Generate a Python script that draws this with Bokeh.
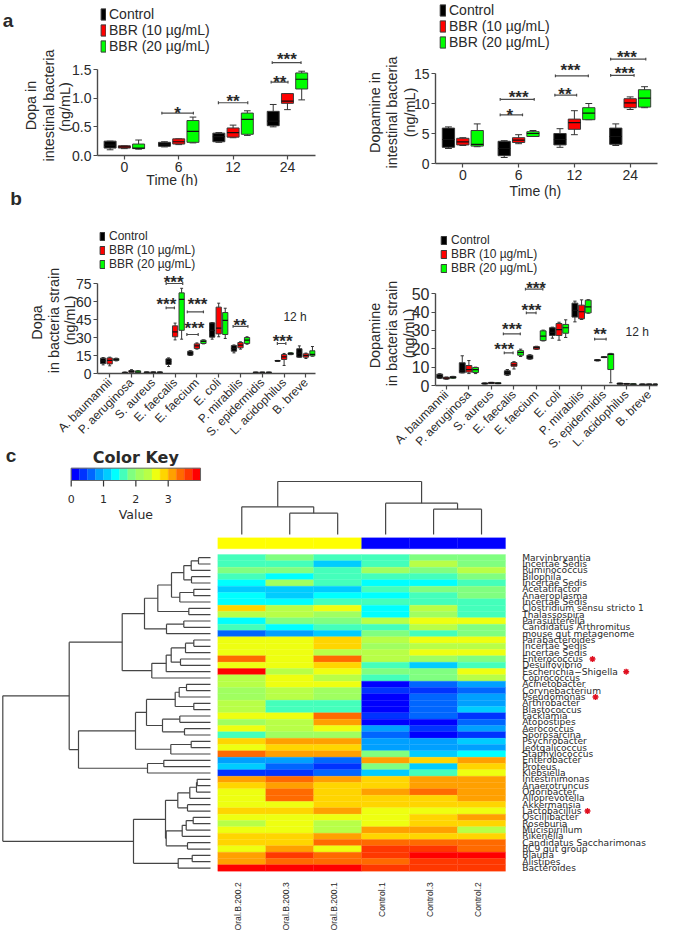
from math import pi
from bokeh.embed import file_html
from bokeh.resources import INLINE
from bokeh.plotting import figure
from bokeh.layouts import column, row
from bokeh.models import (ColumnDataSource, FixedTicker, Legend, LegendItem,
                          LinearColorMapper, NumeralTickFormatter, Range1d)
from bokeh.core.properties import value
from bokeh.transform import transform

FONT = "Liberation Sans"
INK = "#2a2a2a"
SERIES = ["Control", "BBR (10 \u00b5g/mL)", "BBR (20 \u00b5g/mL)"]
FILLS = ["#000000", "#ff0000", "#00ff00"]

# ---------- panel a: (low, q1, median, q3, high) per time point
TIMES = ["0", "6", "12", "24"]
DOPA_GUT_CONTROL = [(.10, .13, .18, .25, .25), (.15, .16, .20, .23, .24), (.23, .24, .33, .39, .40), (.50, .52, .60, .77, .89)]
DOPA_GUT_BBR10 = [(.12, .13, .15, .17, .17), (.19, .20, .24, .29, .29), (.31, .32, .40, .48, .53), (.80, .91, .95, 1.08, 1.08)]
DOPA_GUT_BBR20 = [(.11, .12, .13, .20, .27), (.22, .23, .42, .61, .67), (.35, .37, .63, .74, .78), (.97, 1.16, 1.33, 1.44, 1.47)]
DA_GUT_CONTROL = [(2.5, 2.7, 4.0, 5.9, 6.1), (1.0, 1.3, 2.5, 3.7, 3.8), (2.7, 3.1, 4.0, 5.0, 5.8), (3.0, 3.2, 4.5, 5.9, 6.6)]
DA_GUT_BBR10 = [(3.0, 3.1, 3.6, 4.2, 4.3), (3.3, 3.5, 3.9, 4.3, 4.8), (4.8, 5.7, 6.8, 7.4, 8.8), (9.0, 9.3, 10.1, 10.8, 11.1)]
DA_GUT_BBR20 = [(2.8, 2.9, 3.2, 5.5, 6.6), (4.5, 4.5, 5.0, 5.3, 5.5), (7.3, 7.3, 8.4, 9.3, 10.0), (9.3, 9.4, 10.9, 12.3, 12.8)]

# ---------- panel b
DOPA_STRAINS = ["A. baumannii", "P. aeruginosa", "S. aureus", "E. faecalis", "E. faecium", "E. coli",
                "P. mirabilis", "S. epidermidis", "L. acidophilus", "B. breve"]
DOPA_CONTROL = [(7.2, 8.3, 10.5, 12.8, 13.3), (.2, .3, .7, 1.1, 1.2), (.6, .6, .9, 1.3, 1.3), (5.8, 7.5, 10, 12.2, 13),
                (15, 15.3, 17, 18.6, 19), (28.6, 30.3, 36, 42.2, 42.5), (17.2, 18.6, 21, 23.3, 23.8), (.7, .7, .9, 1.1, 1.1),
                (10.2, 10.3, 10.5, 10.8, 10.9), (13.6, 13.6, 17, 20.6, 23)]
DOPA_BBR10 = [(6.4, 8, 11, 13, 13.6), (.3, .9, 1.7, 2.5, 3.2), (.6, .6, .9, 1.3, 1.3), (28, 30.6, 34.7, 39.7, 42),
              (20.3, 20.8, 23, 24.7, 25.5), (30.6, 33, 37.8, 55.3, 58.6), (20.3, 21.4, 23.6, 25.8, 26.4), (.7, .7, .9, 1.1, 1.1),
              (6.7, 11.7, 13.9, 15.8, 16.7), (12.5, 13.6, 15, 16.4, 17)]
DOPA_BBR20 = [(10.5, 10.8, 11.5, 12.5, 12.8), (.3, .4, 1.2, 2.2, 2.5), (.6, .6, .9, 1.3, 1.3), (28.6, 36, 61.7, 67.2, 71),
              (24.7, 25, 26.7, 27.8, 28), (29.2, 32.5, 44.2, 50.8, 54.4), (24.4, 25, 27.8, 30, 30.6), (.7, .7, .9, 1.1, 1.1),
              (15.7, 15.8, 16.5, 17.2, 17.4), (14.4, 14.7, 16, 18.9, 22.5)]
DA_STRAINS = DOPA_STRAINS
DA_CONTROL = [(3.8, 4, 5, 6.2, 6.4), (6.9, 6.9, 8, 12.4, 16.2), (.8, .8, 1.1, 1.4, 1.4), (5.5, 5.8, 7, 8, 8.7),
              (14.3, 14.5, 15.5, 16.5, 16.8), (25.8, 27.3, 29, 31.5, 31.8), (34.7, 37.3, 41, 44.9, 46), (13.4, 13.5, 13.8, 14, 14.1),
              (.7, .7, 1, 1.3, 1.3), (.4, .4, .6, .8, .8)]
DA_BBR10 = [(3.4, 3.5, 4, 4.5, 4.6), (6.5, 7.3, 8.7, 10.9, 13.6), (1.1, 1.1, 1.4, 1.7, 1.7), (9, 10.5, 11.3, 12.5, 13),
            (19.7, 19.8, 20.6, 21.2, 21.4), (24.7, 27.3, 30.5, 33.8, 34.5), (36, 36.4, 40.2, 43.8, 46.7), (15.2, 15.3, 15.5, 15.6, 15.7),
            (.7, .7, .9, 1.1, 1.1), (.4, .4, .6, .8, .8)]
DA_BBR20 = [(3.9, 4, 4.4, 4.9, 5), (6.5, 7.1, 8.7, 9.8, 10), (1, 1, 1.2, 1.5, 1.5), (15.8, 16.5, 18, 19, 19.8),
            (24.3, 24.5, 26.9, 29.8, 30.2), (26.2, 28.5, 31.5, 33.3, 35.8), (39.4, 39.6, 42.9, 46.5, 46.8), (1.5, 8.7, 17, 17.3, 17.5),
            (.4, .4, .7, .9, .9), (.4, .4, .6, .8, .8)]

# ---------- significance marks: x0, x1, y, label, label x, label y
DOPA_GUT_MARKS = [(.69, 1.27, .74, "*", .98, .81), (1.73, 2.27, .92, "**", 2.0, 1.02),
                  (2.70, 3.01, 1.28, "**", 2.86, 1.35), (2.72, 3.25, 1.62, "***", 2.99, 1.74)]
DA_GUT_MARKS = [(.67, 1.07, 8.1, "*", .84, 8.7), (.67, 1.28, 10.7, "***", 1.0, 11.7), (1.65, 2.04, 11.4, "**", 1.83, 12.2),
                (1.66, 2.25, 14.6, "***", 1.93, 16.1), (2.65, 3.07, 14.7, "***", 2.9, 15.6), (2.65, 3.28, 17.4, "***", 2.94, 18.3)]
DOPA_MARKS = [(2.59, 3.35, 75, "***", 2.93, 79.2), (2.59, 2.97, 54.7, "***", 2.6, 60.6), (3.56, 4.30, 51.4, "***", 4.03, 60.6),
              (3.54, 4.06, 32.5, "***", 3.89, 40.8), (5.66, 6.34, 39.2, "**", 5.98, 43.3), (7.69, 8.08, 25, "***", 7.93, 30)]
DA_MARKS = [(2.57, 2.96, 17.8, "***", 2.57, 22), (2.53, 3.28, 28.2, "***", 2.91, 32.9), (3.55, 3.98, 39.6, "***", 3.78, 43.1),
            (3.51, 4.28, 52.5, "***", 3.98, 55.1), (6.58, 7.09, 25.3, "**", 6.82, 30.2)]

# ---------- panel c
SAMPLES = ["Oral.B.200.2", "Oral.B.200.3", "Oral.B.200.1", "Control.1", "Control.3", "Control.2"]
SAMPLE_GROUP = ["#ffff00", "#ffff00", "#ffff00", "#0000ff", "#0000ff", "#0000ff"]
TAXA = ["Marvinbryantia", "Incertae Sedis", "Ruminococcus", "Bilophila", "Incertae Sedis", "Acetatifactor", "Anaeroplasma",
        "Incertae Sedis", "Clostridium sensu stricto 1", "Thalassospira", "Parasutterella", "Candidatus Arthromitus",
        "mouse gut metagenome", "Parabacteroides", "Incertae Sedis", "Incertae Sedis", "Enterococcus", "Desulfovibrio",
        "Escherichia\u2212Shigella", "Coprococcus", "Acinetobacter", "Corynebacterium", "Pseudomonas", "Arthrobacter",
        "Blastococcus", "Facklamia", "Atopostipes", "Aerococcus", "Sporosarcina", "Psychrobacter", "Jeotgalicoccus",
        "Staphylococcus", "Enterobacter", "Proteus", "Klebsiella", "Intestinimonas", "Anaerotruncus", "Odoribacter",
        "Alloprevotella", "Akkermansia", "Lactobacillus", "Oscillibacter", "Roseburia", "Mucispirillum", "Rikenella",
        "Candidatus Saccharimonas", "RC9 gut group", "Blautia", "Alistipes", "Bacteroides"]
MARKED_ROWS = [16, 18, 22, 40]
HEAT = [
    [1.6, 1.9, 1.6, 1.6, 1.9, 1.9], [1.6, 1.6, 1.1, 1.6, 2.4, 1.9], [1.9, 1.9, 1.6, 2.1, 1.9, 2.4], [1.6, 1.4, 1.6, 1.6, 1.6, 1.9],
    [1.4, 2.1, 1.6, 1.4, 1.4, 1.6], [1.1, 1.1, 1.1, 1.6, 1.9, 1.9], [1.4, 1.1, 1.4, 1.4, 1.6, 1.9], [1.4, 1.4, 1.6, 1.6, 1.6, 1.6],
    [2.9, 2.4, 2.6, 1.4, 2.4, 1.6], [2.4, 2.4, 2.1, 1.4, 2.1, 1.6], [1.4, 1.9, 1.9, 2.4, 2.6, 2.6], [1.6, 1.4, 1.6, 1.6, 2.4, 1.9],
    [.6, .9, 1.1, 1.9, 1.6, 1.9], [2.6, 2.6, 2.9, 2.4, 2.6, 2.6], [2.6, 2.6, 2.9, 2.1, 2.4, 2.4], [2.6, 2.6, 2.4, 2.4, 2.6, 2.6],
    [3.4, 2.6, 3.4, 2.4, 2.1, 1.9], [2.6, 2.6, 2.9, 1.6, 1.1, 1.6], [3.9, 2.4, 2.6, 1.9, 1.9, 2.6], [2.4, 2.6, 2.4, 1.6, 1.9, 2.4],
    [2.4, 2.6, 2.6, .1, .6, .9], [2.1, 2.4, 2.1, .4, .4, .6], [2.1, 2.4, 2.1, .1, .6, .9], [2.4, 1.6, 1.6, .1, .6, .9],
    [2.4, 1.6, 1.6, .1, .6, 1.1], [2.6, 2.6, 3.4, .4, .6, .4], [2.1, 2.4, 3.1, .1, .1, .6], [2.6, 2.4, 2.6, .9, .4, .9],
    [1.6, 2.1, 2.1, .6, .1, .4], [2.9, 3.1, 3.1, .9, .9, 1.1], [2.6, 2.9, 2.9, .9, .9, .9], [3.4, 3.1, 3.1, 1.9, 1.1, 1.4],
    [.9, .9, .6, 3.1, 2.9, 3.1], [1.1, .6, .4, 1.9, 1.1, 2.9], [.4, .4, .6, 1.1, 1.6, 2.6], [3.1, 3.4, 3.1, 2.9, 3.1, 3.1],
    [2.9, 3.1, 2.9, 2.9, 3.1, 3.1], [2.6, 3.4, 2.9, 3.1, 3.4, 3.1], [2.6, 3.4, 2.9, 2.9, 2.9, 3.1], [2.6, 2.6, 2.9, 2.9, 2.9, 2.9],
    [2.9, 2.9, 3.1, 2.6, 2.6, 2.6], [2.6, 2.6, 2.6, 2.6, 2.9, 3.1], [2.4, 2.6, 2.4, 2.6, 2.9, 2.9], [2.6, 2.6, 2.4, 3.1, 3.1, 2.4],
    [2.9, 2.9, 3.1, 2.9, 2.9, 2.9], [2.9, 2.9, 3.4, 3.4, 3.4, 3.4], [2.6, 3.1, 2.6, 3.6, 3.6, 3.4], [3.1, 3.6, 3.4, 3.6, 3.9, 3.9],
    [3.1, 3.4, 3.4, 3.4, 3.6, 3.6], [3.9, 3.9, 3.9, 3.6, 3.6, 3.6],
]
PALETTE = ["#0000ff", "#0033ff", "#0066ff", "#00a0ff", "#00ccff", "#00ffff", "#44ffbb", "#80ff80",
           "#a0ff60", "#b8ff47", "#eeff11", "#ffd500", "#ffa000", "#ff6a00", "#ff3800", "#ff0000"]
KEY_TICKS = [0, 1, 2, 3]

# Dendrograms: (merge height, left, right); leaves are row / column indices
ROW_TREE_1 = (6.6, (5.27, (3.9, (2.67, (1.93, (1.2, 0, 1), 2), (1.9, 3, 4)), (3.07, (1.67, 5, 6), 7)), (2.17, 8, 9)),
              (4.4, (2.67, 10, 11), 12))
ROW_TREE_2 = (5.87, (4.43, (3.93, (2.5, (1.67, 13, 14), 15), (3.0, 16, 17)), 18), 19)
ROW_TREE_3 = (13.2, (7.5, (6.4, (3.53, (3.13, (2.4, 20, 21), 22), (1.67, 23, 24)),
                           (4.8, (3.07, 25, 26), (2.6, 27, 28))), (3.97, (1.93, 29, 30), 31)),
              (6.3, (4.67, 32, 33), 34))
ROW_TREE_4 = (7.7, (4.5, (3.27, (2.07, (1.4, (1.33, 35, 36), 37), 38), (2.3, 39, 40)),
                    (4.43, (2.83, (2.43, (1.73, 41, 42), 43), 44), (2.3, 45, 46))),
              (3.23, (1.83, 47, 48), 49))
ROW_TREE = (20.77, (14.13, (8.83, ROW_TREE_1, ROW_TREE_2), ROW_TREE_3), ROW_TREE_4)
COL_TREE = (5.3, (2.77, 0, (2.13, 1, 2)), (3.13, 3, (2.53, 4, 5)))


def box_panel(cell, frame, xspan, yscale, categories, ticks, stats, marks, offset, boxw,
              legend_at, legend_glyph, legend_gap, legend_font, tick_font, xrot=None):
    """cell = (page left, top, right, bottom); frame = (left, right, bottom page px)."""
    cl, ct, cr, cb = cell
    fl, fr, fb = frame
    y_top = (fb - ct) / yscale
    p = figure(width=cr - cl, height=cb - ct, x_range=Range1d(*xspan), y_range=Range1d(0, y_top),
               output_backend="svg", toolbar_location=None,
               min_border_left=fl - cl, min_border_right=cr - fr, min_border_bottom=cb - fb, min_border_top=0,
               outline_line_color=None, background_fill_color=None, border_fill_color="white", margin=0)
    p.grid.visible = False
    xu = (fr - fl) / (xspan[1] - xspan[0])
    p.xaxis.ticker = FixedTicker(ticks=list(range(len(categories))))
    p.xaxis.major_label_overrides = {i: c for i, c in enumerate(categories)}
    p.yaxis.ticker = FixedTicker(ticks=ticks)
    p.yaxis.bounds = (ticks[0], ticks[-1])
    for ax in (p.xaxis, p.yaxis):
        ax.axis_line_color = "#4a4a4a"
        ax.axis_line_width = 1.4
        ax.major_tick_line_color = "#4a4a4a"
        ax.major_tick_line_width = 1.2
        ax.major_tick_out = 4
        ax.major_tick_in = 0
        ax.minor_tick_line_color = None
        ax.major_label_text_font = FONT
        ax.major_label_text_color = INK
        ax.major_label_standoff = 2
    p.yaxis.major_label_text_font_size = f"{tick_font}px"
    if xrot:
        p.xaxis.major_label_orientation = xrot
        p.xaxis.major_label_text_font_size = "12px"
        p.xaxis.major_label_standoff = 3
    else:
        p.xaxis.major_label_text_font_size = "14px"
    renderers = []
    for j, series in enumerate(stats):
        xs = [i + (j - 1) * offset for i in range(len(series))]
        lo, q1, med, q3, hi = [list(c) for c in zip(*series)]
        capw = boxw * .28
        p.segment(xs, lo, xs, hi, line_color="#333333", line_width=1)
        p.segment([x - capw for x in xs], lo, [x + capw for x in xs], lo, line_color="#333333", line_width=1)
        p.segment([x - capw for x in xs], hi, [x + capw for x in xs], hi, line_color="#333333", line_width=1)
        r = p.vbar(x=xs, width=boxw, bottom=q1, top=q3, fill_color=FILLS[j], line_color="#3a3a3a", line_width=1)
        p.segment([x - boxw / 2 for x in xs], med, [x + boxw / 2 for x in xs], med, line_color="#111111", line_width=1.2)
        renderers.append(r)
    cap = 1.4 / yscale
    for x0, x1, y, lab, lx, ly in marks:
        p.segment([x0, x0, x1], [y, y - cap, y - cap], [x1, x0, x1], [y, y + cap, y + cap], line_color="#4a4a4a", line_width=1.2)
        p.text([lx], [ly], [lab], text_font=value(FONT), text_font_size="17px", text_font_style="bold", text_color=INK,
               text_align="center", text_baseline="middle", y_offset=4)
    leg = Legend(items=[LegendItem(label=s, renderers=[r]) for s, r in zip(SERIES, renderers)],
                 location=(legend_at[0] - fl, fb - legend_at[1]), orientation="vertical",
                 glyph_width=legend_glyph[0], glyph_height=legend_glyph[1], label_height=legend_glyph[1],
                 spacing=legend_gap, padding=0, margin=0, label_standoff=legend_at[2] - legend_at[0] - legend_glyph[0],
                 border_line_color=None, background_fill_alpha=0, label_text_font=FONT,
                 label_text_font_size=f"{legend_font}px", label_text_color=INK)
    p.add_layout(leg)
    dx = lambda px: xspan[0] + (px - fl) / xu
    dy = lambda py: (fb - py) / yscale
    return p, dx, dy


def note(p, x, y, text, size=14, angle=0, weight="normal"):
    p.text([x], [y], [text], level="overlay", angle=angle, text_font=value(FONT), text_font_size=f"{size}px",
           text_font_style=weight, text_color=INK, text_align="center", text_baseline="middle")


# panel a left
p1, dx, dy = box_panel((0, 0, 340, 186), (96, 315, 155), (-.494, 3.516), 57.33, TIMES, [0, .5, 1, 1.5],
                       [DOPA_GUT_CONTROL, DOPA_GUT_BBR10, DOPA_GUT_BBR20], DOPA_GUT_MARKS, .262, .22,
                       (99, 54, 108), (6, 14), 0, 14, 14)
p1.yaxis.formatter = NumeralTickFormatter(format="0.0")
for x_, y_, t_ in [(29, 105, "Dopa in"), (47, 105, "intestinal bacteria"), (63, 106.5, "(ng/mL)")]:
    note(p1, dx(x_), dy(y_), t_, 14.4, pi / 2)
note(p1, dx(171), dy(179), "Time (h)", 14)
note(p1, dx(6), dy(20), "a", 19, weight="bold")

# panel a right
p2, dx, dy = box_panel((340, 0, 683, 200), (431, 657, 163), (-.49, 3.49), 6.0, TIMES, [0, 5, 10, 15],
                       [DA_GUT_CONTROL, DA_GUT_BBR10, DA_GUT_BBR20], DA_GUT_MARKS, .258, .22,
                       (435, 50, 445), (7, 14), 0, 14, 14)
for x_, y_, t_ in [(369, 112, "Dopamine in"), (387, 112, "intestinal bacteria"), (405, 112, "(ng/mL)")]:
    note(p2, dx(x_), dy(y_), t_, 14.4, pi / 2)
note(p2, dx(532.7), dy(190), "Time (h)", 14)

# panel b left
CELL_B_BOTTOM = 480
p3, dx, dy = box_panel((0, 186, 340, CELL_B_BOTTOM), (97, 335, 373), (-.559, 9.44), 1.2, DOPA_STRAINS, [0, 15, 30, 45, 60, 75],
                       [DOPA_CONTROL, DOPA_BBR10, DOPA_BBR20], DOPA_MARKS, .30, .24,
                       (99, 271, 109), (6, 10), 0, 12, 14, pi / 4)
for x_, y_, t_ in [(31, 322, "Dopa"), (49, 320, "in bacteria strain"), (67, 320, "(ng/mL)")]:
    note(p3, dx(x_), dy(y_), t_, 14.4, pi / 2)
note(p3, dx(312.7), dy(316.7), "12 h", 12)
note(p3, dx(8), dy(198), "b", 19, weight="bold")

# panel b right
p4, dx, dy = box_panel((340, 200, 683, CELL_B_BOTTOM), (435, 680, 385), (-.4825, 9.37), 1.834, DA_STRAINS, [0, 10, 20, 30, 40, 50],
                       [DA_CONTROL, DA_BBR10, DA_BBR20], DA_MARKS, .295, .26,
                       (440, 275, 451), (7, 10), 0, 12, 16, pi / 4)
for x_, y_, t_ in [(368, 335, "Dopamine"), (387, 333, "in bacteria strain"), (406, 333, "(ng/mL)")]:
    note(p4, dx(x_), dy(y_), t_, 14.4, pi / 2)
note(p4, dx(657.7), dy(331.3), "12 h", 12)

# panel c: one figure whose frame is the whole cell
TOP, BOTTOM, WIDTH = 440, 932, 683
HL, HR, HT, HB = 217.3, 505.0, 554.0, 870.7
nrows, ncols = len(TAXA), len(SAMPLES)
cu = (HR - HL) / ncols
ru = (HB - HT) / nrows
p5 = figure(width=WIDTH, height=BOTTOM - TOP, x_range=Range1d(-HL / cu, (WIDTH - HL) / cu),
            y_range=Range1d((BOTTOM - HT) / ru, (TOP - HT) / ru), output_backend="svg", toolbar_location=None,
            min_border=0, outline_line_color=None, background_fill_color=None, border_fill_color=None,
            margin=(TOP - CELL_B_BOTTOM, 0, 0, 0))
p5.axis.visible = False
p5.grid.visible = False
p5.extra_x_ranges = {
    "page": Range1d(0, WIDTH),
    "key": Range1d(-70.7 / 32.33, (WIDTH - 70.7) / 32.33),
    "rowdist": Range1d(21.0, 21.0 - WIDTH / 10),
}
p5.extra_y_ranges = {"page": Range1d(BOTTOM, TOP), "coldist": Range1d((534 - BOTTOM) / 10, (534 - TOP) / 10)}

mapper = LinearColorMapper(palette=PALETTE, low=0, high=4)
src = ColumnDataSource({
    "x": [c + .5 for r in range(nrows) for c in range(ncols)],
    "y": [r + .5 for r in range(nrows) for c in range(ncols)],
    "v": [HEAT[r][c] for r in range(nrows) for c in range(ncols)],
})
p5.rect("x", "y", 1, 1, source=src, fill_color=transform("v", mapper), line_color=transform("v", mapper), line_width=.3)


def tree_segments(node, pos):
    if isinstance(node, int):
        return pos(node), 0.0, []
    h, a, b = node
    ya, ha, sa = tree_segments(a, pos)
    yb, hb, sb = tree_segments(b, pos)
    segs = sa + sb + [((h, ya), (h, yb)), ((ha, ya), (h, ya)), ((hb, yb), (h, yb))]
    return (ya + yb) / 2, h, segs


_, _, segs = tree_segments(ROW_TREE, lambda r: r + .5)
p5.segment([s[0][0] for s in segs], [s[0][1] for s in segs], [s[1][0] for s in segs], [s[1][1] for s in segs],
           x_range_name="rowdist", line_color="#454545", line_width=1.2)
_, _, segs = tree_segments(COL_TREE, lambda c: c + .5)
p5.segment([s[0][1] for s in segs], [s[0][0] for s in segs], [s[1][1] for s in segs], [s[1][0] for s in segs],
           y_range_name="coldist", line_color="#454545", line_width=1.2)

# sample colour bar
p5.quad(left=list(range(ncols)), right=[c + 1 for c in range(ncols)], top=[537.3] * ncols, bottom=[548.3] * ncols,
        y_range_name="page", fill_color=SAMPLE_GROUP, line_color=SAMPLE_GROUP, line_width=.3)

# labels
sample_text = dict(text_font=value(FONT), text_font_size="8.6px", text_color=INK)
p5.text([c + .5 - 4 / cu for c in range(ncols)], [881.7] * ncols, SAMPLES, y_range_name="page", angle=pi / 2,
        text_align="right", text_baseline="middle", **sample_text)
p5.text([521.7] * nrows, [r + .5 for r in range(nrows)], TAXA, x_range_name="page",
        text_font=value("DejaVu Sans"), text_font_size="9.1px", text_color=INK, text_align="left", text_baseline="middle")
p5.scatter([592, 625.7, 595, 587], [r + .5 for r in MARKED_ROWS], x_range_name="page", marker="asterisk",
           size=6, line_color="#e01020", line_width=1.4)

# colour key
steps = len(PALETTE)
p5.quad(left=[i / 4 for i in range(steps)], right=[(i + 1) / 4 for i in range(steps)], top=[467.7] * steps,
        bottom=[480] * steps, x_range_name="key", y_range_name="page", fill_color=PALETTE, line_color=PALETTE, line_width=.3)
p5.quad(left=[0], right=[4], top=[467.7], bottom=[480], x_range_name="key", y_range_name="page",
        fill_color=None, line_color="#666666", line_width=1)
p5.segment(KEY_TICKS, [480] * 4, KEY_TICKS, [486] * 4, x_range_name="key", y_range_name="page", line_color="#333333", line_width=1.2)
p5.text(KEY_TICKS, [498] * 4, [str(t) for t in KEY_TICKS], x_range_name="key", y_range_name="page", text_font=value("DejaVu Sans"),
        text_font_size="11px", text_color=INK, text_align="center", text_baseline="middle")
p5.text([2], [513.5], ["Value"], x_range_name="key", y_range_name="page", text_font=value("DejaVu Sans"),
        text_font_size="12.5px", text_color=INK, text_align="center", text_baseline="middle")
p5.text([2], [456.7], ["Color Key"], x_range_name="key", y_range_name="page", text_font=value("DejaVu Sans"),
        text_font_size="16px", text_font_style="bold", text_color=INK, text_align="center", text_baseline="middle")
p5.text([10.5], [455], ["c"], x_range_name="page", y_range_name="page", text_font=value(FONT), text_font_size="19px",
        text_font_style="bold", text_color=INK, text_align="center", text_baseline="middle")

left = column(p1, p3, spacing=0, margin=0)
right = column(p2, p4, spacing=0, margin=0)
page = column(row(left, right, spacing=0, margin=0), p5, spacing=0, margin=0)
open("out.html", "w").write(file_html(page, INLINE))
